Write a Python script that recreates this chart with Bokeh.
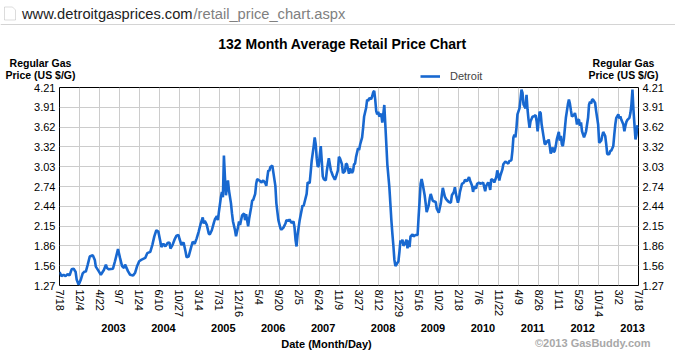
import math
from datetime import date
from bokeh.plotting import figure
from bokeh.layouts import column
from bokeh.models import (Range1d, FixedTicker, LinearAxis, Label, Legend,
                          LegendItem, PolyAnnotation)
from bokeh.embed import file_html
from bokeh.resources import INLINE

# ---------------- data ----------------
start_date = date(2002, 7, 18)
end_date = date(2013, 7, 18)

# weekly average regular gas price, Detroit (weeks since 2002-07-18)
weeks = [
    0, 2, 4, 6, 8, 10, 12, 14, 16, 17, 19, 21, 23, 25, 26, 28, 30, 33, 35, 36,
    39, 41, 44, 46, 47, 49, 53, 55, 58, 60, 62, 64, 65, 68, 70, 73, 75, 77, 79, 81,
    85, 87, 90, 92, 94, 96, 98, 100, 101, 103, 105, 107, 109, 110, 112, 114, 116, 118, 119, 121,
    123, 125, 126, 128, 130, 132, 134, 136, 138,
    140, 142, 143, 144, 146, 148, 149, 151, 153, 154, 156, 157, 158, 160, 161, 162, 163, 164, 165, 166,
    167, 168, 170, 171, 172, 174, 175, 177, 178, 179, 181, 183, 184, 185, 187, 188, 190, 191, 192, 194,
    195, 196, 197, 199, 200, 202, 204, 205, 206, 207, 208, 209, 211, 212, 214, 215, 217, 219, 220, 222,
    224, 225, 227, 228, 230, 232, 233, 234, 235, 236, 238, 239, 241, 242, 243, 245, 246, 248, 249, 250,
    252, 253, 254, 255, 256, 257, 258, 259, 260, 261, 262, 264, 265, 266, 267, 269, 270, 271, 273, 274,
    276, 277, 278, 280, 281, 283, 284, 285,
    286, 287, 288, 290, 291, 292, 293, 294, 296, 297, 298, 300, 301, 302, 304, 305, 306, 307, 309, 310,
    311, 312, 313, 314, 315, 316, 317, 319, 320, 321, 322, 323, 324, 325, 327, 328, 329, 330, 331, 332,
    333, 334, 336, 337, 338, 339, 340, 341, 343, 344, 345, 346, 347, 348, 350, 351, 353, 355, 356, 357,
    358, 359, 360, 362, 363, 364, 366, 367, 368, 370, 371, 373, 374, 376, 378, 379, 380, 382, 383, 384,
    386, 388, 389, 391, 392, 393, 395, 396, 397, 399, 401, 402, 404, 406, 407, 409, 410, 411, 413, 414,
    416, 417, 419, 420, 422, 423, 425, 426, 427, 428, 430,
    431, 433, 434, 435, 436, 437, 439, 440, 442, 443, 445, 446, 448, 449, 450, 451, 452, 453, 454, 456,
    457, 458, 459, 460, 462, 463, 464, 465, 466, 467, 469, 470, 472, 473, 474, 475, 476, 477, 478, 480,
    481, 482, 483, 484, 485, 486, 487, 489, 490, 491, 492, 493, 495, 496, 497, 498, 499, 500, 502, 503,
    504, 505, 506, 507, 508, 510, 511, 512, 513, 514, 515, 516, 517, 518, 520, 521, 522, 524, 525, 526,
    527, 528, 529, 531, 532, 533, 534, 535, 537, 538, 539, 541, 542, 543, 545, 546, 547, 549, 550, 551,
    552, 554, 555, 556, 557, 559, 560, 561, 562, 563, 565, 566, 567, 568, 569, 570, 571, 572, 573,
]
prices = [
    1.47, 1.41, 1.43, 1.41, 1.44, 1.42, 1.51, 1.52, 1.47, 1.36, 1.28, 1.35, 1.45, 1.48, 1.47, 1.58, 1.70, 1.72, 1.65, 1.55,
    1.48, 1.43, 1.50, 1.58, 1.53, 1.51, 1.52, 1.63, 1.81, 1.68, 1.56, 1.53, 1.58, 1.48, 1.43, 1.42, 1.46, 1.56, 1.63, 1.65,
    1.68, 1.75, 1.77, 1.87, 2.00, 2.09, 2.07, 1.92, 1.84, 1.89, 1.85, 1.90, 1.91, 1.82, 1.87, 1.95, 2.01, 2.02, 1.96, 1.87,
    1.91, 1.77, 1.69, 1.70, 1.81, 1.92, 1.89, 1.97, 2.07,
    2.19, 2.28, 2.19, 2.23, 2.17, 2.04, 2.03, 2.09, 2.20, 2.25, 2.30, 2.24, 2.36, 2.58, 2.66, 2.58, 3.20, 2.88, 2.61, 2.73,
    2.83, 2.68, 2.49, 2.34, 2.22, 2.09, 2.00, 2.14, 2.22, 2.17, 2.31, 2.34, 2.24, 2.33, 2.15, 2.26, 2.43, 2.53, 2.54, 2.63,
    2.78, 2.85, 2.84, 2.82, 2.80, 2.83, 2.79, 2.75, 2.87, 2.98, 2.97, 3.03, 3.05, 2.95, 2.75, 2.49, 2.24, 2.12, 2.10, 2.13,
    2.19, 2.24, 2.23, 2.25, 2.20, 2.22, 2.13, 1.95, 1.85, 2.02, 2.23, 2.31, 2.46, 2.45, 2.51, 2.63, 2.80, 2.79, 2.95, 3.12,
    3.34, 3.47, 3.37, 3.16, 3.03, 3.05, 3.20, 3.34, 3.12, 2.89, 2.85, 2.83, 2.97, 3.07, 3.16, 2.98, 2.94, 2.90, 2.84, 2.88,
    2.98, 3.18, 3.16, 3.07, 2.94, 2.97, 3.08, 3.07,
    3.00, 2.93, 3.01, 2.94, 2.97, 3.07, 3.08, 3.18, 3.31, 3.28, 3.36, 3.47, 3.61, 3.78, 3.91, 4.03, 4.01, 4.05, 4.04, 4.08,
    4.14, 4.16, 4.03, 3.86, 3.81, 3.85, 3.78, 3.82, 3.69, 3.81, 3.95, 3.66, 3.37, 3.07, 2.73, 2.49, 2.24, 2.04, 1.86, 1.65,
    1.56, 1.58, 1.63, 1.77, 1.94, 1.90, 1.95, 1.86, 1.91, 1.95, 1.82, 1.94, 1.84, 2.00, 2.03, 2.00, 2.02, 2.02, 2.29, 2.53,
    2.78, 2.85, 2.78, 2.61, 2.49, 2.36, 2.46, 2.56, 2.63, 2.53, 2.52, 2.51, 2.41, 2.35, 2.49, 2.61, 2.72, 2.59, 2.56, 2.54,
    2.51, 2.50, 2.61, 2.66, 2.73, 2.63, 2.50, 2.56, 2.66, 2.78, 2.80, 2.84, 2.82, 2.88, 2.83, 2.75, 2.66, 2.74, 2.71, 2.78,
    2.80, 2.78, 2.79, 2.80, 2.67, 2.75, 2.80, 2.76, 2.69, 2.85, 2.83,
    2.80, 2.88, 2.98, 2.92, 2.83, 2.90, 2.99, 3.07, 3.11, 3.10, 3.08, 3.12, 3.13, 3.27, 3.47, 3.51, 3.47, 3.61, 3.81, 3.90,
    4.03, 4.18, 4.13, 3.96, 3.90, 4.10, 3.88, 3.73, 3.61, 3.71, 3.78, 3.78, 3.80, 3.71, 3.56, 3.71, 3.85, 3.83, 3.66, 3.47,
    3.37, 3.37, 3.42, 3.39, 3.44, 3.34, 3.23, 3.32, 3.25, 3.27, 3.34, 3.44, 3.55, 3.42, 3.49, 3.37, 3.34, 3.44, 3.76, 3.86,
    3.96, 4.03, 3.97, 3.87, 3.78, 3.80, 3.83, 3.76, 3.66, 3.73, 3.73, 3.64, 3.69, 3.56, 3.47, 3.51, 3.56, 3.76, 3.96, 4.00,
    3.97, 4.03, 4.03, 3.98, 3.86, 3.76, 3.66, 3.39, 3.42, 3.49, 3.55, 3.49, 3.37, 3.22, 3.22, 3.27, 3.27, 3.34, 3.51, 3.66,
    3.76, 3.81, 3.75, 3.78, 3.73, 3.66, 3.56, 3.64, 3.70, 3.73, 3.76, 3.83, 3.96, 4.18, 3.88, 3.66, 3.44, 3.51, 3.65,
]

tick_dates = [
    "2002-07-18", "2002-12-04", "2003-04-22", "2003-09-07", "2004-01-24", "2004-06-10",
    "2004-10-27", "2005-03-14", "2005-07-31", "2005-12-16", "2006-05-04", "2006-09-20",
    "2007-02-05", "2007-06-24", "2007-11-09", "2008-03-27", "2008-08-12", "2008-12-29",
    "2009-05-16", "2009-10-02", "2010-02-18", "2010-07-06", "2010-11-22", "2011-04-09",
    "2011-08-26", "2012-01-11", "2012-05-29", "2012-10-14", "2013-03-02", "2013-07-18",
]
y_min, y_max = 1.27, 4.21
y_tick_labels = ["1.27", "1.56", "1.86", "2.15", "2.44", "2.74",
                 "3.03", "3.32", "3.62", "3.91", "4.21"]
years = [2003, 2004, 2005, 2006, 2007, 2008, 2009, 2010, 2011, 2012, 2013]

series_name = "Detroit"
title_text = "132 Month Average Retail Price Chart"
y_title = ["Regular Gas", "Price (US $/G)"]
x_title = "Date (Month/Day)"
credit = "\u00a92013 GasBuddy.com"
url_domain = "www.detroitgasprices.com"
url_path = "/retail_price_chart.aspx"

# ---------------- derived ----------------
days = [7 * w for w in weeks]
total_days = (end_date - start_date).days
tick_objs = [date.fromisoformat(s) for s in tick_dates]
x_ticks = [(d - start_date).days for d in tick_objs]
x_labels = {t: f"{d.month}/{d.day}" for t, d in zip(x_ticks, tick_objs)}
n_y = len(y_tick_labels)
y_ticks = [y_min + i * (y_max - y_min) / (n_y - 1) for i in range(n_y)]
y_labels = {t: s for t, s in zip(y_ticks, y_tick_labels)}
year_pos = {}
for yr in years:
    ds = [t for t, d in zip(x_ticks, tick_objs) if d.year == yr]
    year_pos[yr] = sum(ds) / len(ds)

# ---------------- layout constants (pixels) ----------------
W = 675
FONT = "Liberation Sans"
BLUE = "#1868d0"
L, R = 59, 37            # borders of the main plot frame
TOP_H, MAIN_H, BOT_H = 82, 238, 38
FRAME_W = W - L - R


def blank(height, x_range, y_range):
    f = figure(width=W, height=height, output_backend="svg", toolbar_location=None,
               x_range=x_range, y_range=y_range, x_axis_type=None, y_axis_type=None,
               min_border=0, min_border_left=0, min_border_right=0,
               min_border_top=0, min_border_bottom=0, frame_align=False)
    f.outline_line_color = None
    f.grid.visible = False
    f.background_fill_color = "white"
    f.border_fill_color = "white"
    return f


def text(fig, t, x, y, size="11px", bold=False, color="black", align="center",
         x_units="data", x_offset=0):
    fig.add_layout(Label(x=x, y=y, x_units=x_units, text=t, x_offset=x_offset,
                         text_font=FONT, text_font_size=size,
                         text_font_style="bold" if bold else "normal",
                         text_color=color, text_align=align, text_baseline="middle"))


# ---------------- top strip (page-pixel coordinates) ----------------
top = blank(TOP_H, Range1d(0, W), Range1d(TOP_H, 0))
text(top, url_domain, 21.5, 13, size="14.7px", color="#222222", align="left")
text(top, url_path, 193, 13, size="14.7px", color="#808080", align="left")
top.add_layout(PolyAnnotation(xs=[0, W, W, 0], ys=[23.5, 23.5, 24.5, 24.5],
                              fill_color="#d4d4d4", fill_alpha=1, line_color=None))
top.add_layout(PolyAnnotation(xs=[4, 12, 15, 15, 4], ys=[6.5, 6.5, 9.5, 19.5, 19.5],
                              fill_color="white", fill_alpha=1, line_color="#8a8a8a",
                              line_width=1))
text(top, title_text, 342, 43, size="14px", bold=True)
for cx in (40, 623):
    text(top, y_title[0], cx, 62, size="10.5px", bold=True)
    text(top, y_title[1], cx, 74, size="10.5px", bold=True)

# legend sample: same series, drawn on a y range that keeps it out of this strip
top.extra_y_ranges = {"series": Range1d(100, 101)}
legend_r = top.line(days, prices, y_range_name="series", line_color=BLUE, line_width=2.6)
top.add_layout(Legend(items=[LegendItem(label=series_name, renderers=[legend_r])],
                      location=(420, 0), border_line_color=None,
                      background_fill_alpha=0, padding=0, margin=0, spacing=0,
                      glyph_width=20, glyph_height=10, label_height=10,
                      label_standoff=10, label_text_font=FONT,
                      label_text_font_size="11px", label_text_baseline="middle"))

# ---------------- main chart ----------------
p = figure(width=W, height=MAIN_H, output_backend="svg", toolbar_location=None,
           x_range=Range1d(0, total_days), y_range=Range1d(y_min, y_max),
           min_border_left=L, min_border_right=R, min_border_top=5,
           min_border_bottom=32, frame_align=False)
p.background_fill_color = "white"
p.border_fill_color = "white"
p.outline_line_color = "black"
p.outline_line_width = 1

r = p.line(days, prices, line_color=BLUE, line_width=2.6)

xt = FixedTicker(ticks=x_ticks)
yt = FixedTicker(ticks=y_ticks)
p.xaxis.ticker = xt
p.yaxis.ticker = yt
p.xgrid.ticker = xt
p.ygrid.ticker = yt
for g in (p.xgrid, p.ygrid):
    g.grid_line_color = "#cccccc"
    g.grid_line_width = 1

p.xaxis.major_label_overrides = x_labels
p.xaxis.major_label_orientation = -math.pi / 2
p.yaxis.major_label_overrides = y_labels

right_axis = LinearAxis(ticker=yt, major_label_overrides=y_labels)
p.add_layout(right_axis, "right")

for ax in p.xaxis + p.yaxis + [right_axis]:
    ax.axis_line_color = None
    ax.major_tick_line_color = None
    ax.minor_tick_line_color = None
    ax.major_tick_out = 0
    ax.major_tick_in = 0
    ax.minor_tick_out = 0
    ax.minor_tick_in = 0
    ax.major_label_text_font = FONT
    ax.major_label_text_font_size = "11px"
    ax.major_label_text_color = "black"
    ax.major_label_standoff = 4

# ---------------- bottom strip (shares the main x scale) ----------------
px_per_day = FRAME_W / total_days
bot = blank(BOT_H, Range1d(-L / px_per_day, total_days + R / px_per_day),
            Range1d(320 + BOT_H, 320))
for yr in years:
    text(bot, str(yr), year_pos[yr], 327, size="11px", bold=True, x_offset=4)
text(bot, x_title, 326, 343, size="11px", bold=True, x_units="screen")
text(bot, credit, 650, 342, size="11px", bold=True, color="#a8a8a8", align="right",
     x_units="screen")

layout = column(top, p, bot, spacing=0)
open("out.html", "w").write(file_html(layout, INLINE))
